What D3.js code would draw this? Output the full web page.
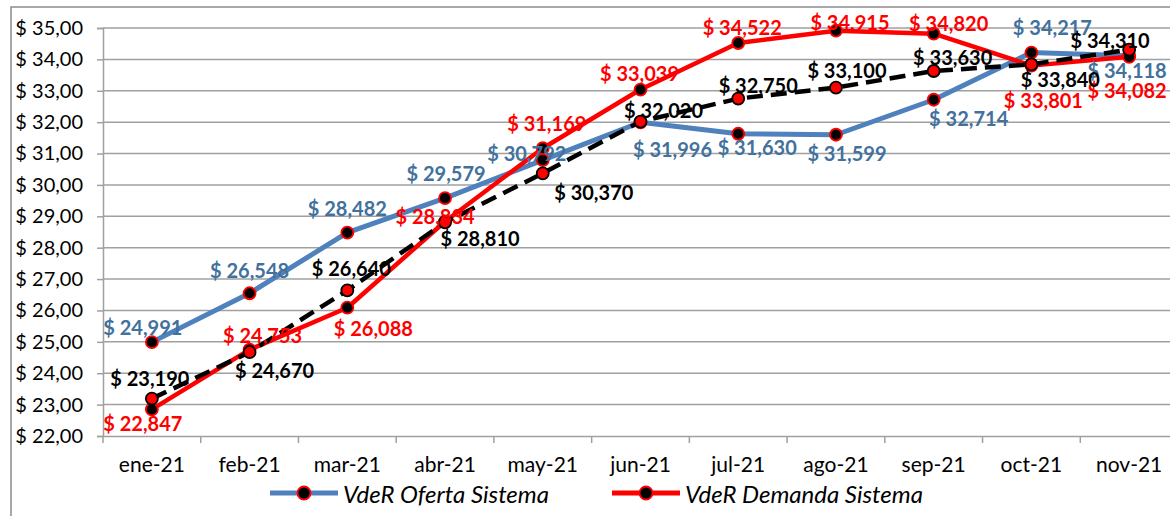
<!DOCTYPE html>
<html><head><meta charset="utf-8">
<script src="https://cdn.jsdelivr.net/npm/d3@7"></script>
<style>
body{margin:0;background:#fff;}
svg{display:block;font-family:Lato,"Open Sans",sans-serif;}
</style></head>
<body>
<svg id="c" width="1170" height="516"></svg>
<script>
const categories = ["ene-21","feb-21","mar-21","abr-21","may-21","jun-21","jul-21","ago-21","sep-21","oct-21","nov-21"];
const oferta  = [24.991,26.548,28.482,29.579,30.792,31.996,31.630,31.599,32.714,34.217,34.118];
const demanda = [22.847,24.753,26.088,28.834,31.169,33.039,34.522,34.915,34.820,33.801,34.082];
const tercera = [23.190,24.670,26.640,28.810,30.370,32.020,32.750,33.100,33.630,33.840,34.310];
const yTicks = [22,23,24,25,26,27,28,29,30,31,32,33,34,35];
const seriesNames = ["VdeR Oferta Sistema","VdeR Demanda Sistema"];

// label offsets relative to each point (layout, not data)
const offO = [[-9,-15],[0,-23],[0,-25],[1,-25],[-16,-7],[32,27],[19,13],[11,18],[35,18],[21,-26],[-2,14]];
const offD = [[-9,14],[13,-15],[26,20],[-10,-6],[4,-25],[-1,-17],[4,-16],[14,-9],[15,-11],[12,34],[-2,33]];
const offT = [[-2,-21],[25,18],[4,-22],[35,16],[51,19],[23,-12],[20,-14],[11,-18],[19,-14],[29,15],[-19,-10]];

const svg = d3.select("#c");
const W = 1170, H = 516;
const x = d3.scaleBand().domain(categories).range([103, 1178]);
const y = d3.scaleLinear().domain([22,35]).range([436, 28]);
const cx = d => x(d) + x.bandwidth()/2;
const fmt = v => "$ " + v.toFixed(3).replace(".", ",");
const grid = "#a0a0a0";

svg.append("rect").attr("x",11).attr("y",7).attr("width",1200).attr("height",520)
  .attr("fill","none").attr("stroke","#8c8c8c").attr("stroke-width",1.5);

// gridlines
svg.append("g").selectAll("line").data(yTicks.slice(1)).join("line")
  .attr("x1",103).attr("x2",W).attr("y1",d=>y(d)).attr("y2",d=>y(d))
  .attr("stroke",grid).attr("stroke-width",1.5);

// y axis
const ya = svg.append("g").attr("transform","translate(103,0)")
  .call(d3.axisLeft(y).tickValues(yTicks).tickSize(6).tickPadding(14)
    .tickFormat(d => "$ " + d.toFixed(2).replace(".", ",")));
ya.select(".domain").attr("stroke",grid).attr("stroke-width",1.5);
ya.selectAll(".tick line").attr("stroke",grid).attr("stroke-width",1.5);
ya.selectAll("text").attr("font-size",20).attr("fill","#000").attr("font-family","Lato");

// x axis
const xa = svg.append("g").attr("transform","translate(0,436)")
  .call(d3.axisBottom(x).tickSize(0).tickPadding(21));
xa.select(".domain").attr("stroke",grid).attr("stroke-width",1.5);
xa.selectAll("text").attr("font-size",21).attr("fill","#000").attr("font-family","Lato");
svg.append("g").selectAll("line").data(categories).join("line")
  .attr("x1",d=>x(d)).attr("x2",d=>x(d)).attr("y1",436).attr("y2",443)
  .attr("stroke",grid).attr("stroke-width",1.5);

const line = d3.line().x((d,i)=>cx(categories[i])).y(d=>y(d));
const blue = "#4F81BD", red = "#FF0000";

function series(vals, color, width, dash, mFill, mStroke){
  const g = svg.append("g");
  g.append("path").datum(vals).attr("d",line).attr("fill","none")
    .attr("stroke",color).attr("stroke-width",width)
    .attr("stroke-dasharray",dash).attr("stroke-linejoin","round");
  g.selectAll("circle").data(vals).join("circle")
    .attr("cx",(d,i)=>cx(categories[i])).attr("cy",d=>y(d)).attr("r",6)
    .attr("fill",mFill).attr("stroke",mStroke).attr("stroke-width",1.8);
}
series(oferta, blue, 5, null, "#000", red);
series(demanda, red, 4.5, null, "#000", red);
series(tercera, "#000", 4.5, "16,8", red, "#000");

function labels(vals, offs, color){
  svg.append("g").selectAll("text").data(vals).join("text")
    .attr("x",(d,i)=>cx(categories[i]) + offs[i][0])
    .attr("y",(d,i)=>y(d) + offs[i][1])
    .attr("text-anchor","middle").attr("dominant-baseline","central")
    .attr("font-size",20).attr("font-weight","bold").attr("fill",color)
    .text(d=>fmt(d));
}
labels(oferta, offO, "#41719C");
labels(demanda, offD, red);
labels(tercera, offT, "#000");

// legend
const lg = svg.append("g");
const legendItems = [{name:seriesNames[0], color:blue, x0:270},{name:seriesNames[1], color:red, x0:612}];
legendItems.forEach(it=>{
  lg.append("line").attr("x1",it.x0).attr("x2",it.x0+68).attr("y1",493).attr("y2",493)
    .attr("stroke",it.color).attr("stroke-width",5);
  lg.append("circle").attr("cx",it.x0+34).attr("cy",493).attr("r",6.5)
    .attr("fill","#000").attr("stroke",red).attr("stroke-width",1.8);
  lg.append("text").attr("x",it.x0+73).attr("y",493).attr("dominant-baseline","central")
    .attr("font-size",24).attr("font-style","italic").attr("fill","#000").text(it.name);
});
</script>
</body></html>
